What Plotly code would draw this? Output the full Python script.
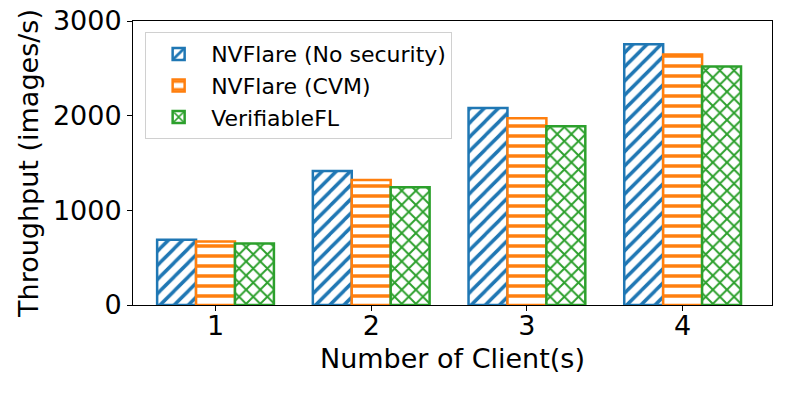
import plotly.graph_objects as go

clients = [1, 2, 3, 4]
no_security = [690, 1415, 2080, 2755]
cvm = [670, 1320, 1972, 2645]
verifiable = [650, 1245, 1888, 2520]

series = [
    ("NVFlare (No security)", no_security, "#1f77b4", "/"),
    ("NVFlare (CVM)", cvm, "#ff7f0e", "-"),
    ("VerifiableFL", verifiable, "#2ca02c", "x"),
]

fig = go.Figure()
for name, vals, color, shape in series:
    fig.add_trace(go.Bar(
        x=clients, y=vals, name=name,
        marker=dict(color="white", line=dict(color=color, width=2.5),
                    pattern=dict(shape=shape, fgcolor=color, bgcolor="white",
                                 fillmode="replace", size=10, solidity=0.35)),
    ))

font = "DejaVu Sans"
# page sits 8px in from the window corner, margins allow for that
fig.update_layout(
    width=793, height=397,
    margin=dict(l=125, r=29, t=13, b=100, autoexpand=False),
    paper_bgcolor="white", plot_bgcolor="white",
    barmode="group", bargap=0.25, bargroupgap=0,
    font=dict(family=font, color="black", size=26),
    showlegend=True,
    legend=dict(x=0.019, y=0.961, xanchor="left", yanchor="top",
                bgcolor="white", bordercolor="#d0d0d0", borderwidth=1,
                font=dict(size=22), tracegroupgap=0, itemwidth=55),
)
# x title as annotation so it can sit closer to the tick labels
fig.add_annotation(text="Number of Client(s)", xref="paper", yref="paper",
                   x=0.5, y=-0.188, yanchor="middle", showarrow=False,
                   font=dict(size=27))
fig.update_xaxes(
    range=[0.47, 4.574], tickvals=clients, automargin=False,
    showline=True, linecolor="black", linewidth=1, mirror=True,
    ticks="outside", ticklen=5, tickcolor="black", showgrid=False,
    tickfont=dict(size=27), ticklabelstandoff=-8,
)
fig.update_yaxes(
    range=[0, 3000], tickvals=[0, 1000, 2000, 3000], automargin=False,
    title=dict(text="Throughput (images/s)", font=dict(size=27), standoff=6),
    showline=True, linecolor="black", linewidth=1, mirror=True,
    ticks="outside", ticklen=5, tickcolor="black", showgrid=False,
    tickfont=dict(size=27), zeroline=False, ticklabeloverflow="allow",
)

fig.write_html("out.html")
